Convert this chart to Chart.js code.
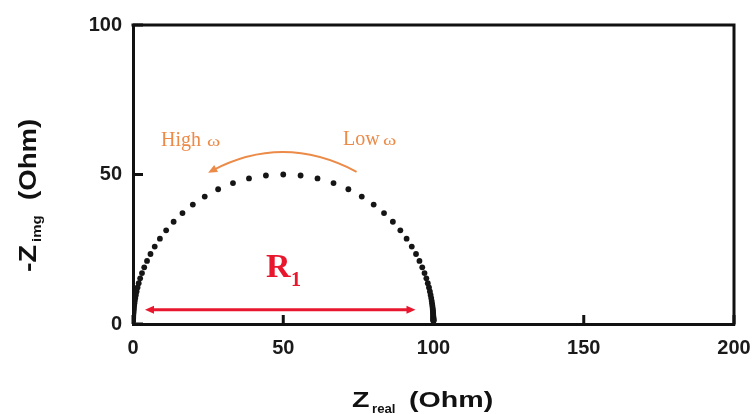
<html>
<head>
<script src="https://cdn.jsdelivr.net/npm/chart.js@4/dist/chart.umd.min.js"></script>
<style>
  body { margin: 0; background: #fff; }
</style>
</head>
<body>
<canvas id="myChart" width="754" height="414"></canvas>
<script>
// Nyquist data (Ohm)
var zReal = [0.01,0.01,0.01,0.02,0.02,0.03,0.04,0.05,0.06,0.08,0.09,0.12,0.15,0.19,0.24,0.30,0.38,0.48,0.60,0.76,
             0.96,1.20,1.51,1.90,2.38,2.99,3.74,4.67,5.82,7.23,8.95,11.03,13.52,16.47,19.91,23.87,28.33,33.27,38.60,44.23,
             50.00,
             55.77,61.40,66.73,71.67,76.13,80.09,83.53,86.48,88.97,91.05,92.77,94.18,95.33,96.26,97.01,97.62,98.10,98.49,98.80,99.04,
             99.24,99.40,99.52,99.62,99.70,99.76,99.81,99.85,99.88,99.91,99.92,99.94,99.95,99.96,99.97,99.98,99.98,99.99,99.99,99.99];
var zImg = [0.97,1.08,1.22,1.37,1.54,1.73,1.94,2.18,2.44,2.74,3.08,3.46,3.88,4.36,4.89,5.49,6.16,6.91,7.75,8.68,
            9.73,10.90,12.21,13.65,15.26,17.03,18.97,21.10,23.41,25.90,28.54,31.32,34.19,37.09,39.93,42.63,45.06,47.12,48.68,49.67,
            50.00,
            49.67,48.68,47.12,45.06,42.63,39.93,37.09,34.19,31.32,28.54,25.90,23.41,21.10,18.97,17.03,15.26,13.65,12.21,10.90,9.73,
            8.68,7.75,6.91,6.16,5.49,4.89,4.36,3.88,3.46,3.08,2.74,2.44,2.18,1.94,1.73,1.54,1.37,1.22,1.08,0.97];
var xTicks = [0, 50, 100, 150, 200];
var yTicks = [0, 50, 100];

var points = zReal.map(function (x, i) { return { x: x, y: zImg[i] }; });

var serif = '"Liberation Serif", "Times New Roman", serif';
var orange = '#ec8a48';
var red = '#e8172e';

function stretchText(ctx, txt, x, y, sx) {
    ctx.save();
    ctx.translate(x, y);
    ctx.scale(sx, 1);
    ctx.fillText(txt, 0, 0);
    ctx.restore();
}

function arrowHead(ctx, tipX, tipY, dx, dy, len, half) {
    var l = Math.sqrt(dx * dx + dy * dy);
    dx /= l; dy /= l;
    ctx.beginPath();
    ctx.moveTo(tipX, tipY);
    ctx.lineTo(tipX - dx * len - dy * half, tipY - dy * len + dx * half);
    ctx.lineTo(tipX - dx * len + dy * half, tipY - dy * len - dx * half);
    ctx.closePath();
    ctx.fill();
}

var extras = {
    id: 'extras',
    beforeDatasetsDraw: function (chart) {
        var ctx = chart.ctx, a = chart.chartArea, xs = chart.scales.x, ys = chart.scales.y;
        ctx.save();
        ctx.strokeStyle = '#111';
        ctx.lineWidth = 3;
        // top and right frame
        ctx.beginPath();
        ctx.moveTo(a.left - 1.5, a.top);
        ctx.lineTo(a.right, a.top);
        ctx.lineTo(a.right, a.bottom + 1.5);
        ctx.stroke();
        // inward ticks
        xTicks.forEach(function (v) {
            var px = xs.getPixelForValue(v);
            ctx.beginPath(); ctx.moveTo(px, a.bottom); ctx.lineTo(px, a.bottom - 9); ctx.stroke();
        });
        yTicks.forEach(function (v) {
            var py = ys.getPixelForValue(v);
            ctx.beginPath(); ctx.moveTo(a.left, py); ctx.lineTo(a.left + 10, py); ctx.stroke();
        });
        ctx.restore();
    },
    afterDatasetsDraw: function (chart) {
        var ctx = chart.ctx, xs = chart.scales.x, ys = chart.scales.y;
        ctx.save();

        // red R1 double arrow
        var y0 = ys.getPixelForValue(4.8);
        var xl = xs.getPixelForValue(4), xr = xs.getPixelForValue(94);
        ctx.strokeStyle = red; ctx.fillStyle = red; ctx.lineWidth = 3;
        ctx.beginPath(); ctx.moveTo(xl + 5, y0); ctx.lineTo(xr - 5, y0); ctx.stroke();
        arrowHead(ctx, xl, y0, -1, 0, 9, 4);
        arrowHead(ctx, xr, y0, 1, 0, 9, 4);

        ctx.font = 'bold 34px ' + serif;
        ctx.textBaseline = 'alphabetic';
        ctx.fillText('R', 266, 277);
        ctx.font = 'bold 20px ' + serif;
        ctx.fillText('1', 291, 286);

        // orange frequency arc
        var p0x = xs.getPixelForValue(25), p0y = ys.getPixelForValue(50.6);
        var cx = xs.getPixelForValue(50), cy = ys.getPixelForValue(63.9);
        var p2x = xs.getPixelForValue(74.4), p2y = ys.getPixelForValue(50.9);
        ctx.strokeStyle = orange; ctx.fillStyle = orange; ctx.lineWidth = 2;
        ctx.beginPath();
        ctx.moveTo(p0x + 4, p0y - 2);
        ctx.quadraticCurveTo(cx, cy, p2x, p2y);
        ctx.stroke();
        arrowHead(ctx, p0x, p0y, p0x - cx, p0y - cy, 9, 4);

        ctx.font = '20px ' + serif;
        ctx.fillText('High', 161, 146);
        ctx.fillText('Low', 343, 145);
        ctx.font = '15px ' + serif;
        stretchText(ctx, '\u03c9', 207, 146, 1.35);
        stretchText(ctx, '\u03c9', 383, 145, 1.35);

        // axis titles
        ctx.fillStyle = '#111';
        ctx.font = 'bold 22px "Liberation Sans", Arial, sans-serif';
        stretchText(ctx, 'Z', 352, 407, 1.3);
        stretchText(ctx, '(Ohm)', 409, 407, 1.3);
        ctx.font = 'bold 12px "Liberation Sans", Arial, sans-serif';
        stretchText(ctx, 'real', 372, 413, 1.1);

        ctx.translate(36, 272);
        ctx.rotate(-Math.PI / 2);
        ctx.font = 'bold 23px "Liberation Sans", Arial, sans-serif';
        stretchText(ctx, '-Z', 0, 0, 1.25);
        stretchText(ctx, '(Ohm)', 72, 0, 1.2);
        ctx.font = 'bold 12px "Liberation Sans", Arial, sans-serif';
        stretchText(ctx, 'img', 30, 5, 1.25);

        ctx.restore();
    }
};

new Chart('myChart', {
    type: 'scatter',
    data: {
        datasets: [{
            data: points,
            backgroundColor: '#151515',
            borderWidth: 0,
            pointRadius: 2.9,
            showLine: false
        }]
    },
    options: {
        responsive: false,
        animation: false,
        layout: { padding: { top: 25, right: 20, left: 0, bottom: 0 } },
        plugins: { legend: { display: false }, tooltip: { enabled: false } },
        scales: {
            x: {
                type: 'linear', min: 0, max: 200,
                afterFit: function (s) { s.height = 90; s.paddingRight = 0; s.paddingLeft = 0; },
                afterBuildTicks: function (s) { s.ticks = xTicks.map(function (v) { return { value: v }; }); },
                grid: { display: true, drawOnChartArea: false, drawTicks: false },
                border: { display: true, color: '#111', width: 3 },
                ticks: { font: { family: '"Liberation Sans", Arial, sans-serif', size: 20, weight: 'bold' }, color: '#1a1a1a', padding: 12, maxRotation: 0 }
            },
            y: {
                type: 'linear', min: 0, max: 100,
                afterFit: function (s) { s.width = 133; s.paddingTop = 0; s.paddingBottom = 0; },
                afterBuildTicks: function (s) { s.ticks = yTicks.map(function (v) { return { value: v }; }); },
                grid: { display: true, drawOnChartArea: false, drawTicks: false },
                border: { display: true, color: '#111', width: 3 },
                ticks: { font: { family: '"Liberation Sans", Arial, sans-serif', size: 20, weight: 'bold' }, color: '#1a1a1a', padding: 11 }
            }
        }
    },
    plugins: [extras]
});
</script>
</body>
</html>
